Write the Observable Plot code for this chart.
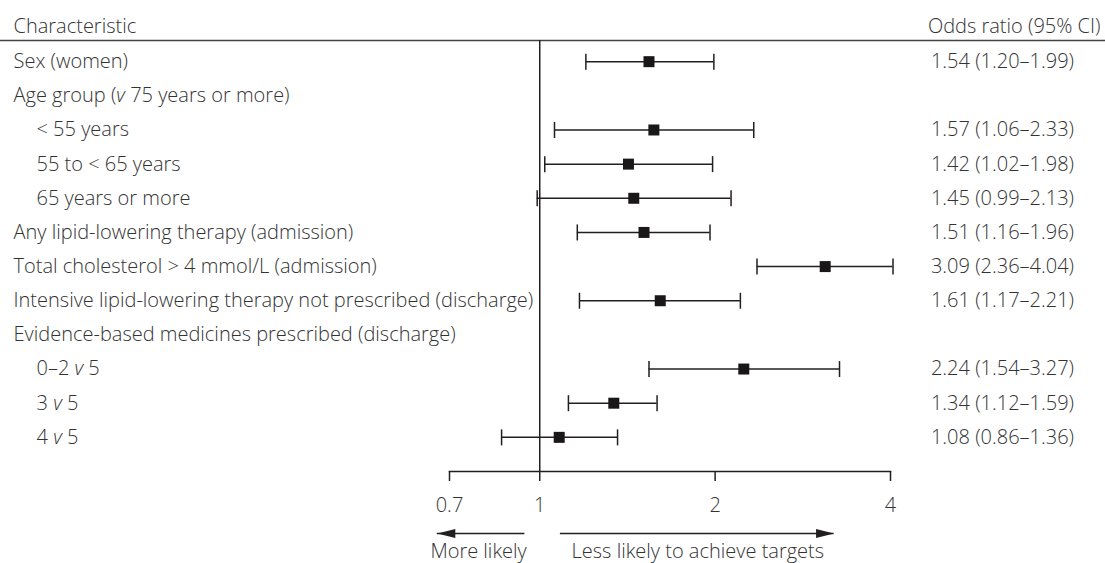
<!DOCTYPE html>
<html><head><meta charset="utf-8">
<script src="https://cdn.jsdelivr.net/npm/d3@7"></script>
<script src="https://cdn.jsdelivr.net/npm/@observablehq/plot@0.6"></script>
<style>
body{margin:0;background:#fff;}
#chart svg{display:block;}
</style>
</head><body><div id="chart"></div>
<script>
// ---- data ----
const labels = [
  "Sex (women)",
  "Age group (v 75 years or more)",
  "< 55 years",
  "55 to < 65 years",
  "65 years or more",
  "Any lipid-lowering therapy (admission)",
  "Total cholesterol > 4 mmol/L (admission)",
  "Intensive lipid-lowering therapy not prescribed (discharge)",
  "Evidence-based medicines prescribed (discharge)",
  "0\u20132 v 5",
  "3 v 5",
  "4 v 5"
];
const indentLevel = [0, 0, 1, 1, 1, 0, 0, 0, 0, 1, 1, 1];
const oddsRatio = [1.54, null, 1.57, 1.42, 1.45, 1.51, 3.09, 1.61, null, 2.24, 1.34, 1.08];
const ciLower   = [1.20, null, 1.06, 1.02, 0.99, 1.16, 2.36, 1.17, null, 1.54, 1.12, 0.86];
const ciUpper   = [1.99, null, 2.33, 1.98, 2.13, 1.96, 4.04, 2.21, null, 3.27, 1.59, 1.36];
const xTicks = [0.7, 1, 2, 4];
const headerLeft = "Characteristic";
const headerRight = "Odds ratio (95% CI)";
const arrowStart = [0.943, 1.085];
const arrowEnd = [0.667, 3.2];
const arrowLabels = ["More likely", "Less likely to achieve targets"];
const arrowLabelAt = [0.95, 1.134];

// ---- build ----
const rows = labels.map((label, i) => ({
  label, row: i, indent: indentLevel[i],
  or: oddsRatio[i], lo: ciLower[i], hi: ciUpper[i]
}));
const est = rows.filter(d => d.or != null);
est.forEach(d => d.text = `${d.or.toFixed(2)} (${d.lo.toFixed(2)}\u2013${d.hi.toFixed(2)})`);
const arrows = arrowStart.map((s, i) => ({
  from: s, to: arrowEnd[i], label: arrowLabels[i], at: arrowLabelAt[i],
  dir: i === 0 ? "left" : "right"
}));

const ink = "#231f20";
const textInk = "#333333";
const font = "'Open Sans', sans-serif";
const fs = 20;
const ls = 0.1;

const capSymbol = {draw(ctx) { ctx.moveTo(0, -8); ctx.lineTo(0, 8); }};
const headSymbol = {draw(ctx) { ctx.moveTo(0, 0); ctx.lineTo(-18, -4.5); ctx.lineTo(-18, 4.5); ctx.closePath(); }};
const squareSymbol = {draw(ctx) { ctx.rect(-5.5, -5.5, 11, 11); }};

const yTop = -0.62;
const txt = {fill: textInk, fontSize: fs, letterSpacing: ls};

const chart = Plot.plot({
  width: 1105, height: 563,
  marginLeft: 449, marginRight: 215, marginTop: 40, marginBottom: 92,
  style: {fontFamily: font, fontSize: fs + "px", color: textInk, background: "#fff", fontWeight: 300},
  x: {type: "log", domain: [0.7, 4]},
  y: {domain: [yTop, 12], reverse: true, axis: null},
  marks: [
    // header rule across full width
    Plot.ruleY([yTop], {insetLeft: -449, insetRight: -215, stroke: "#444", strokeWidth: 1.5}),
    // headers
    Plot.text([headerLeft], {frameAnchor: "top-left", lineAnchor: "middle", dx: -436, dy: -14, text: d => d, textAnchor: "start", ...txt}),
    Plot.text([headerRight], {frameAnchor: "top-right", lineAnchor: "middle", dx: 210, dy: -14, text: d => d, textAnchor: "end", ...txt}),
    // null line
    Plot.ruleX([1], {stroke: ink, strokeWidth: 1.5}),
    // axis
    Plot.frame({anchor: "bottom", stroke: ink, strokeWidth: 1.5}),
    Plot.axisX({ticks: xTicks, tickFormat: d => String(d), tickSize: 10, tickPadding: 16, fontSize: fs, stroke: ink, strokeWidth: 1.5, fill: textInk, label: null}),
    // CIs
    Plot.ruleY(est, {y: "row", x1: "lo", x2: "hi", stroke: ink, strokeWidth: 1.5}),
    Plot.dot(est, {x: "lo", y: "row", symbol: capSymbol, fill: "none", stroke: ink, strokeWidth: 1.5}),
    Plot.dot(est, {x: "hi", y: "row", symbol: capSymbol, fill: "none", stroke: ink, strokeWidth: 1.5}),
    Plot.dot(est, {x: "or", y: "row", symbol: squareSymbol, fill: "#1a1718", stroke: "none"}),
    // left labels
    Plot.text(rows.filter(d => d.indent === 0), {y: "row", text: "label", frameAnchor: "left", dx: -436, textAnchor: "start", ...txt}),
    Plot.text(rows.filter(d => d.indent === 1), {y: "row", text: "label", frameAnchor: "left", dx: -413, textAnchor: "start", ...txt}),
    // right numbers
    Plot.text(est, {y: "row", text: "text", frameAnchor: "right", dx: 112, textAnchor: "middle", ...txt, letterSpacing: 1.5}),
    // arrows
    Plot.ruleY(arrows, {y: () => 12, x1: "from", x2: "to", dy: 62, stroke: ink, strokeWidth: 1.5}),
    Plot.dot(arrows, {x: "to", y: () => 12, dy: 62, symbol: headSymbol, rotate: d => d.dir === "left" ? 180 : 0, fill: ink, stroke: "none"}),
    Plot.text(arrows.filter(d => d.dir === "left"), {x: "at", y: () => 12, dy: 80, text: "label", textAnchor: "end", ...txt}),
    Plot.text(arrows.filter(d => d.dir === "right"), {x: "at", y: () => 12, dy: 80, text: "label", textAnchor: "start", ...txt})
  ]
});

// italicise the "v" (versus) in labels
d3.select(chart).selectAll("text").each(function() {
  const t = this.textContent;
  const re = /(?<=[\s(])v(?= )/;
  if (this.children.length === 0 && re.test(t)) {
    const parts = t.split(re);
    const sel = d3.select(this);
    sel.text(null);
    parts.forEach((p, i) => {
      if (i > 0) sel.append("tspan").attr("font-style", "italic").text("v");
      sel.append("tspan").text(p);
    });
  }
});

document.getElementById("chart").appendChild(chart);
</script>
</body></html>
